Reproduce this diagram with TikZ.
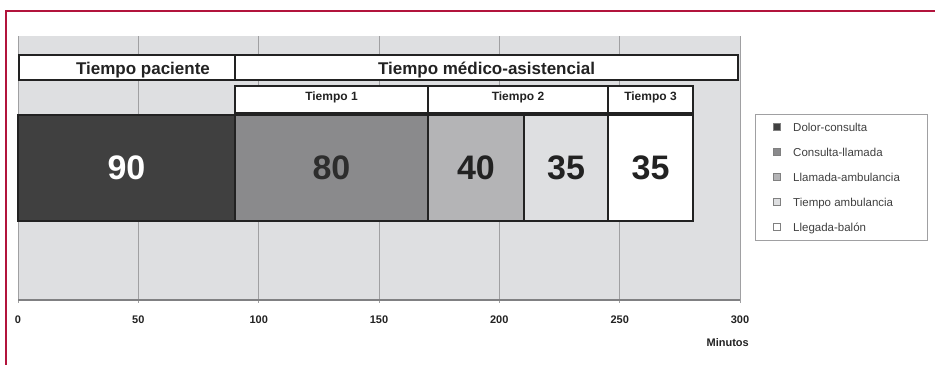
\documentclass[tikz,border=0pt]{standalone}
\usepackage{fontspec}
\setmainfont{Liberation Sans}
\definecolor{frame}{RGB}{178,20,60}
\definecolor{plotbg}{RGB}{222,223,225}
\definecolor{gridc}{RGB}{160,160,162}
\definecolor{cA}{RGB}{64,64,64}
\definecolor{cB}{RGB}{138,138,140}
\definecolor{cC}{RGB}{180,180,182}
\definecolor{cD}{RGB}{222,223,225}
\definecolor{cE}{RGB}{255,255,255}
\definecolor{txt}{RGB}{34,34,34}
\tikzset{
  hbox/.style={draw=txt, line width=1.8pt, fill=white, inner sep=0pt},
  bar/.style={draw=txt, line width=1.4pt, inner sep=0pt, minimum height=106pt},
  htext/.style={font=\fontsize{17}{17}\selectfont\bfseries, text=txt, inner sep=0pt, anchor=base},
  stext/.style={font=\fontsize{12}{12}\selectfont\bfseries, text=txt, inner sep=0pt, anchor=base},
  btext/.style={font=\fontsize{34}{34}\selectfont\bfseries, inner sep=0pt},
  tick/.style={font=\fontsize{11}{11}\selectfont\bfseries, text=txt, inner sep=0pt},
  legsq/.style={draw=gray, line width=0.5pt, minimum size=7pt, inner sep=0pt},
  legtext/.style={font=\fontsize{11.5}{11.5}\selectfont, text=black!75, inner sep=0pt, anchor=base west},
}
\begin{document}
\begin{tikzpicture}[x=1pt,y=-1pt]
\useasboundingbox (0,0) rectangle (935,365);
% red frame
\draw[frame, line width=2pt] (935,11) -- (6,11) -- (6,365);
% plot area
\fill[plotbg] (18,36) rectangle (740,300);
\foreach \x in {138.3,258.7,379,499.3,619.7}
  \draw[gridc, line width=0.8pt] (\x,36) -- (\x,303);
\draw[gridc, line width=1pt] (18,36) -- (18,303);
\draw[gridc, line width=1pt] (740,36) -- (740,303);
\draw[gridc!80!black, line width=1.2pt] (18,300) -- (740,300);
% tick labels
\node[tick] (t0) at (18,320) {0};
\node[tick] (t50) at (138.3,320) {50};
\node[tick] (t100) at (258.7,320) {100};
\node[tick] (t150) at (379,320) {150};
\node[tick] (t200) at (499.3,320) {200};
\node[tick] (t250) at (619.7,320) {250};
\node[tick] (t300) at (740,320) {300};
\node[tick, anchor=east] (unit) at (749,343) {Minutos};
% header boxes
\node[hbox, minimum width=216pt, minimum height=25pt] (hp) at (127,67.5) {};
\node[htext] (hpt) at (143,74) {Tiempo paciente};
\node[hbox, minimum width=503pt, minimum height=25pt] (hm) at (486.5,67.5) {};
\node[htext] (hmt) at (486.5,74) {Tiempo médico-asistencial};
\node[hbox, line width=1.5pt, minimum width=193pt, minimum height=27pt] (s1) at (331.5,99.5) {};
\node[hbox, line width=1.5pt, minimum width=180pt, minimum height=27pt] (s2) at (518,99.5) {};
\node[hbox, line width=1.5pt, minimum width=85pt, minimum height=27pt] (s3) at (650.5,99.5) {};
\node[stext] (s1t) at (331.5,100.5) {Tiempo 1};
\node[stext] (s2t) at (518,100.5) {Tiempo 2};
\node[stext] (s3t) at (650.5,100.5) {Tiempo 3};
% bars
\node[bar, fill=cA, minimum width=217pt] (b1) at (126.5,168) {};
\node[bar, fill=cB, minimum width=193pt] (b2) at (331.5,168) {};
\node[bar, fill=cC, minimum width=96pt] (b3) at (476,168) {};
\node[bar, fill=cD, minimum width=84pt] (b4) at (566,168) {};
\node[bar, fill=cE, minimum width=85pt] (b5) at (650.5,168) {};
\node[btext, text=white] (b1t) at (126.5,168) {90};
\node[btext, text=txt!95] (b2t) at (331.5,168) {80};
\node[btext, text=txt] (b3t) at (476,168) {40};
\node[btext, text=txt] (b4t) at (566,168) {35};
\node[btext, text=txt] (b5t) at (650.5,168) {35};
% legend
\node[draw=gridc, line width=0.8pt, fill=white, minimum width=172pt, minimum height=126pt, inner sep=0pt] (leg) at (841,177) {};
\node[legsq, fill=cA] (l1) at (777,127) {};
\node[legsq, fill=cB] (l2) at (777,152) {};
\node[legsq, fill=cC] (l3) at (777,177) {};
\node[legsq, fill=cD] (l4) at (777,202) {};
\node[legsq, fill=cE] (l5) at (777,227) {};
\node[legtext] (l1t) at (793,131) {Dolor-consulta};
\node[legtext] (l2t) at (793,156) {Consulta-llamada};
\node[legtext] (l3t) at (793,181) {Llamada-ambulancia};
\node[legtext] (l4t) at (793,206) {Tiempo ambulancia};
\node[legtext] (l5t) at (793,231) {Llegada-balón};
\end{tikzpicture}
\end{document}
